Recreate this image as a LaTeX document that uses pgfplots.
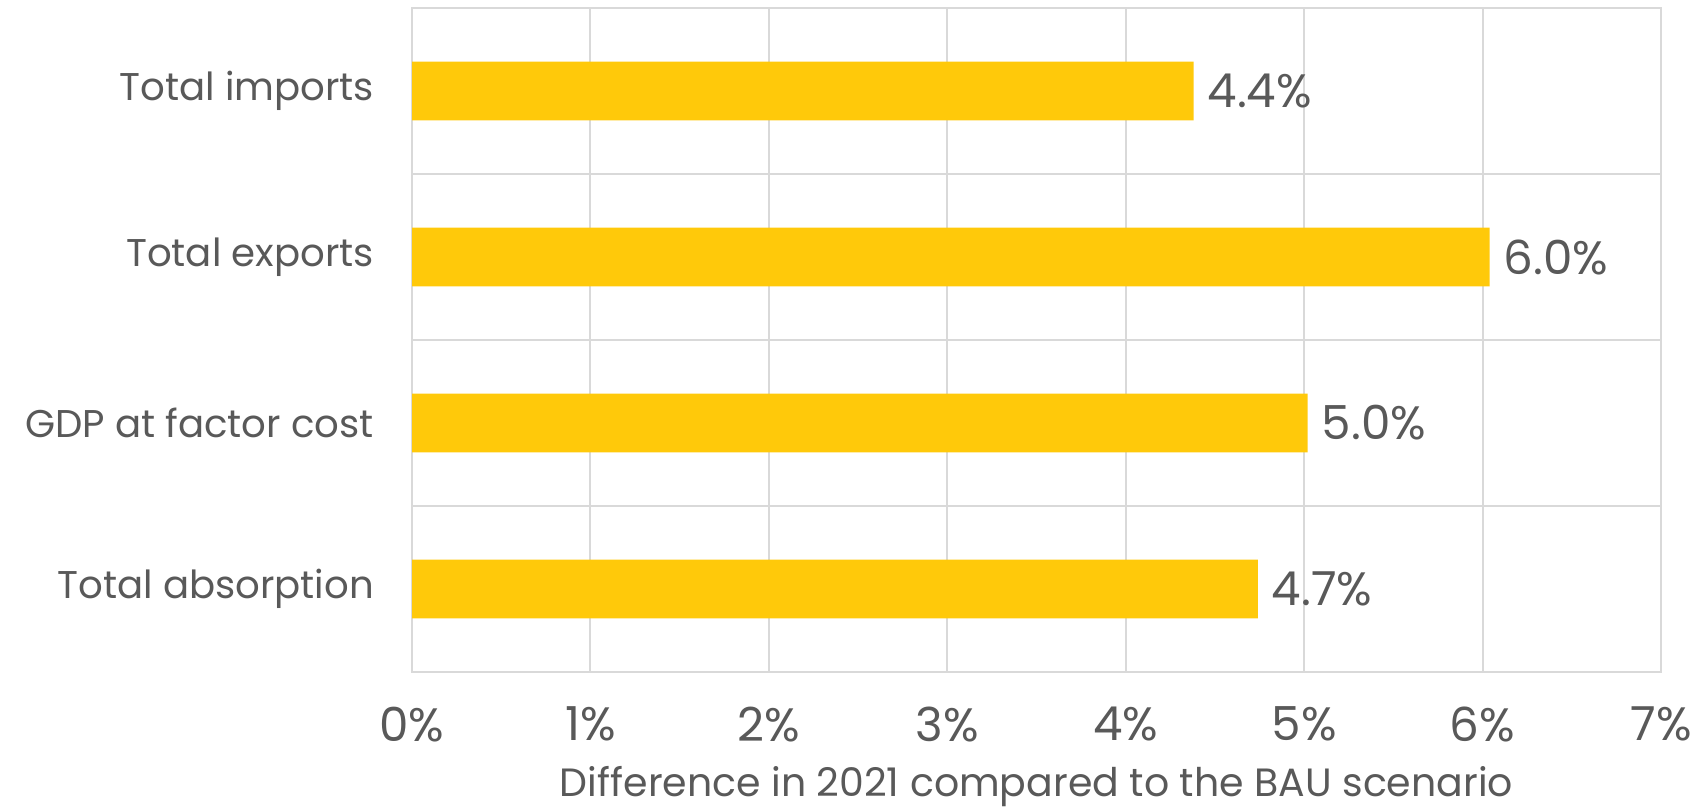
\documentclass[border=0pt]{standalone}
\usepackage{pgfplots}
\pgfplotsset{compat=1.18}
\usepackage{fontspec}
\setmainfont{Poppins}
\definecolor{barc}{HTML}{FFC90A}
\definecolor{txt}{HTML}{595959}
\definecolor{gridc}{HTML}{D9D9D9}
\begin{document}
\begin{tikzpicture}[x=1bp,y=1bp]
\useasboundingbox (0,0) rectangle (850.5,405);
\begin{axis}[
  at={(206bp,69bp)}, anchor=south west,
  scale only axis, width=624.5bp, height=332bp,
  xbar, bar width=29.3bp,
  xmin=0, xmax=7, ymin=-0.5, ymax=3.5,
  xtick={0,1,2,3,4,5,6,7},
  xticklabel={\pgfmathprintnumber{\tick}\%},
  /pgf/number format/assume math mode=true,
  ytick={0,1,2,3},
  yticklabels={Total absorption,GDP at factor cost,Total exports,Total imports},
  minor ytick={0.5,1.5,2.5},
  xmajorgrids=true, yminorgrids=true, ymajorgrids=false,
  grid style={draw=gridc, line width=1bp},
  minor grid style={draw=gridc, line width=1bp},
  axis line style={draw=gridc, line width=1bp},
  major tick length=0pt, minor tick length=0pt,
  yticklabel style={font=\fontsize{19.4}{22}\selectfont, text=txt, xshift=-15.5bp},
  xticklabel style={font=\fontsize{23.5}{26}\selectfont, text=txt, yshift=-14bp},
  xlabel={Difference in 2021 compared to the BAU scenario},
  xlabel style={font=\fontsize{19.8}{23}\selectfont, text=txt, yshift=-5.5bp},
  point meta=x,
  nodes near coords={\pgfmathprintnumber[fixed,fixed zerofill,precision=1]{\pgfplotspointmeta}\%},
  nodes near coords style={font=\fontsize{23.5}{26}\selectfont, text=txt, anchor=west, xshift=3.5bp},
]
\addplot[fill=barc, draw=none] coordinates {(4.74,0) (5.02,1) (6.04,2) (4.38,3)};
\end{axis}
\end{tikzpicture}
\end{document}
